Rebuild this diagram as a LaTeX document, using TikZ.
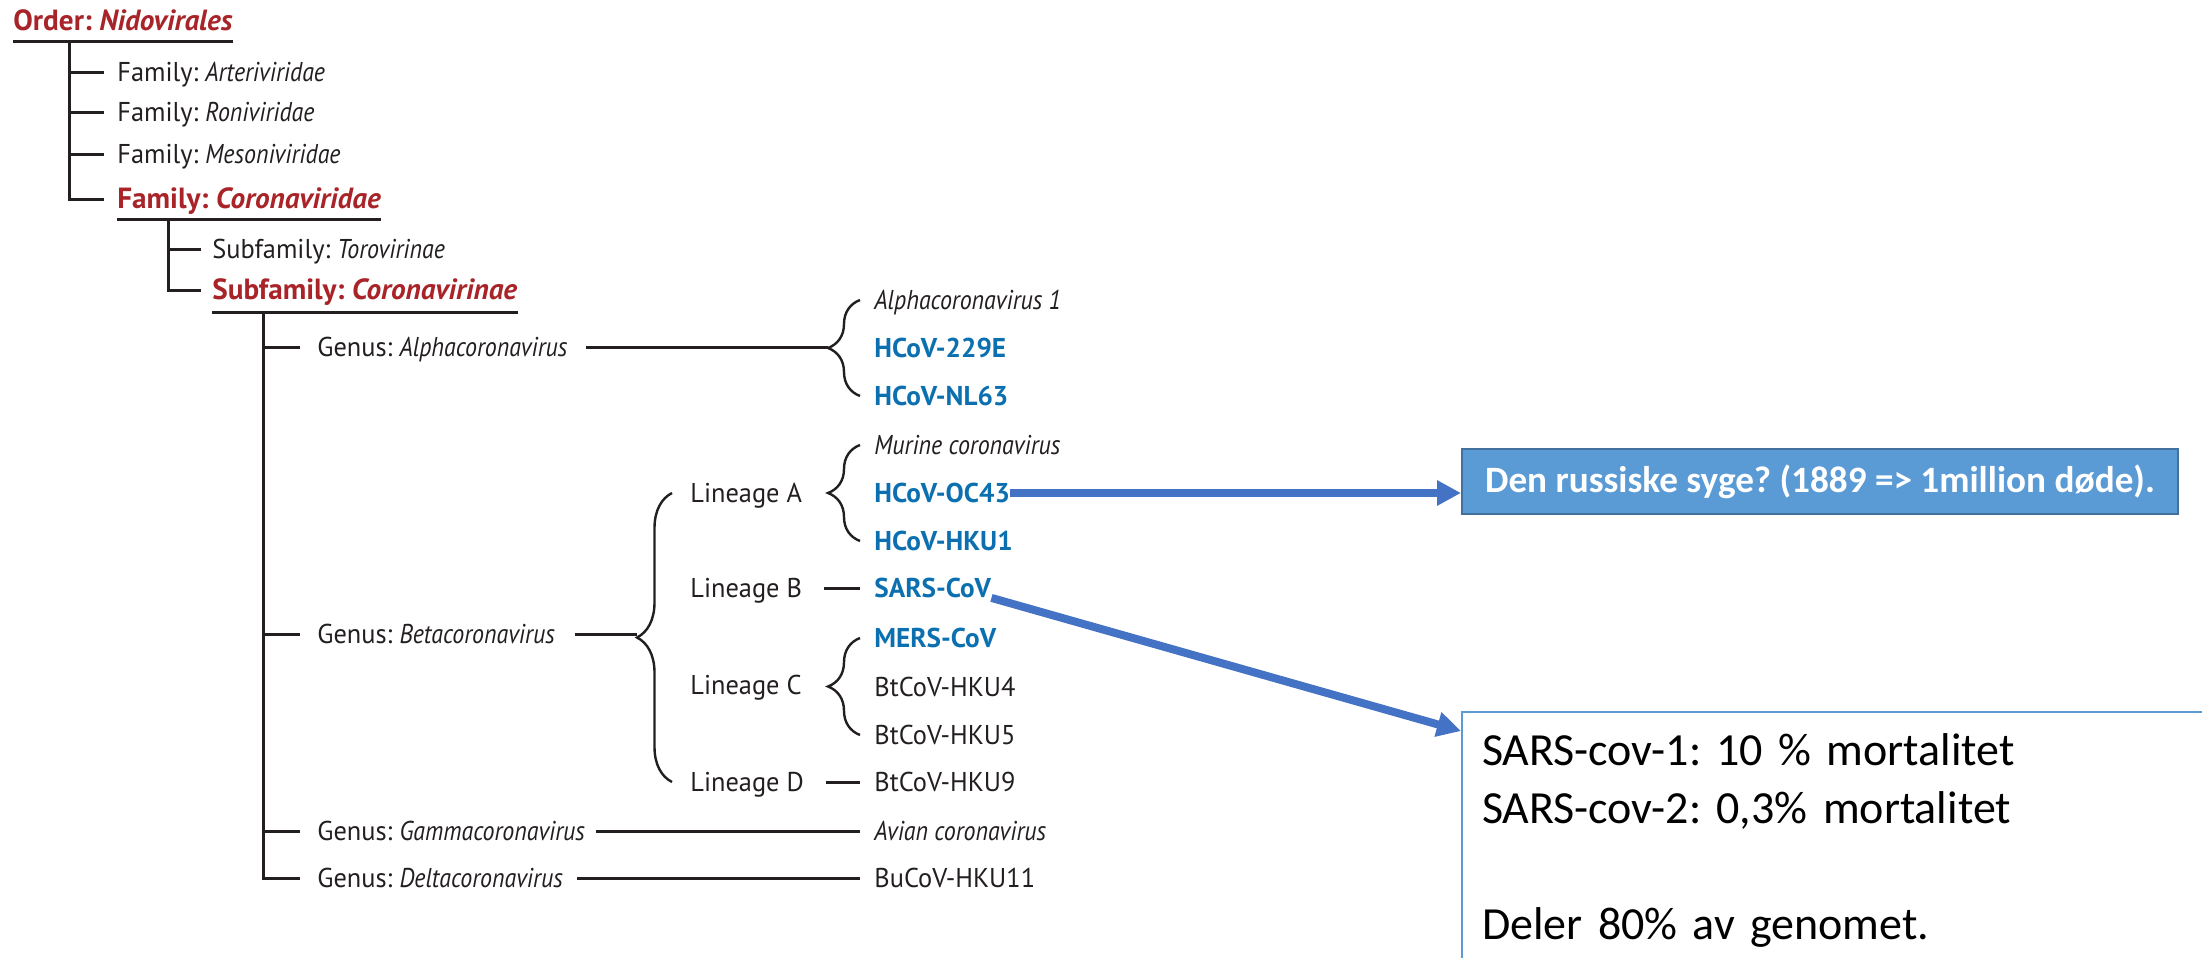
\documentclass[tikz,border=0pt]{standalone}
\usepackage{fontspec}
\usepackage{tikz}
\usetikzlibrary{positioning,decorations.pathreplacing,arrows.meta}

\newfontfamily\treefont[UprightFeatures={FakeStretch=0.97}, ItalicFeatures={FakeStretch=0.88}, BoldFeatures={FakeStretch=1.0}, BoldItalicFeatures={FakeStretch=1.0}]{PT Sans}
\newfontfamily\boxfont{Carlito}
\frenchspacing

\definecolor{taxred}{RGB}{168,36,41}
\definecolor{hcovblue}{RGB}{12,112,176}
\definecolor{treegray}{RGB}{35,31,32}
\definecolor{arrowblue}{RGB}{68,114,196}
\definecolor{boxfill}{RGB}{91,155,213}
\definecolor{boxline}{RGB}{65,113,156}

\tikzset{
  taxon/.style={anchor=west, inner sep=0pt, text height=9.5pt, text depth=0pt, text=treegray, font=\treefont\fontsize{13.6}{16}\selectfont},
  rank/.style={taxon, text=taxred, font=\treefont\fontsize{14.6}{17}\selectfont\bfseries},
  human/.style={taxon, text=hcovblue, font=\treefont\fontsize{13.6}{16}\selectfont\bfseries},
  branch/.style={draw=treegray, line width=1.5pt},
  curly/.style={draw=treegray, line width=1.2pt, decorate, decoration={brace, amplitude=#1}},
  curly/.default=16pt,
  pointer/.style={draw=arrowblue, line width=4pt, -{Triangle[length=12pt,width=12pt]}},
  russbox/.style={fill=boxfill, draw=boxline, line width=1pt, minimum width=358pt, minimum height=32.5pt, text=white, font=\boxfont\fontsize{18.6}{22}\selectfont\bfseries},
  notebox/.style={draw=boxfill, line width=1pt, align=left, text width=380pt, inner xsep=10pt, inner ysep=11pt, text=black, font=\boxfont\fontsize{23}{29}\selectfont}
}

\begin{document}
\begin{tikzpicture}[x=0.5pt, y=-0.5pt]
  \useasboundingbox (0,0) rectangle (2202,958);
  \clip (0,0) rectangle (2202,958);

  % taxonomy
  \node[rank] at (13,21) (ord) {Order: \textit{Nidovirales}};
  \node[taxon] at (117,72) (art) {Family: \textit{Arteriviridae}};
  \node[taxon] at (117,112) (ron) {Family: \textit{Roniviridae}};
  \node[taxon] at (117,154) (mes) {Family: \textit{Mesoniviridae}};
  \node[rank] at (117,199) (cor) {Family: \textit{Coronaviridae}};
  \node[taxon] at (212,249) (tor) {Subfamily: \textit{Torovirinae}};
  \node[rank] at (212,290) (cvi) {Subfamily: \textit{Coronavirinae}};
  \node[taxon] at (317,347) (alpha) {Genus: \textit{Alphacoronavirus}};
  \node[taxon] at (317,634) (beta) {Genus: \textit{Betacoronavirus}};
  \node[taxon] at (317,831) (gamma) {Genus: \textit{Gammacoronavirus}};
  \node[taxon] at (317,878) (delta) {Genus: \textit{Deltacoronavirus}};

  \node[taxon] at (690,493) (linA) {Lineage A};
  \node[taxon] at (690,588) (linB) {Lineage B};
  \node[taxon] at (690,685) (linC) {Lineage C};
  \node[taxon] at (690,782) (linD) {Lineage D};

  \node[taxon] at (874,300) (alpha1) {\textit{Alphacoronavirus 1}};
  \node[human] at (874,348) (e229) {HCoV-229E};
  \node[human] at (874,396) (nl63) {HCoV-NL63};
  \node[taxon] at (874,445) (murine) {\textit{Murine coronavirus}};
  \node[human] at (874,493) (oc43) {HCoV-OC43};
  \node[human] at (874,541) (hku1) {HCoV-HKU1};
  \node[human] at (874,588) (sars) {SARS-CoV};
  \node[human] at (874,638) (mers) {MERS-CoV};
  \node[taxon] at (874,687) (hku4) {BtCoV-HKU4};
  \node[taxon] at (874,735) (hku5) {BtCoV-HKU5};
  \node[taxon] at (874,782) (hku9) {BtCoV-HKU9};
  \node[taxon] at (874,831) (avian) {\textit{Avian coronavirus}};
  \node[taxon] at (874,878) (hku11) {BuCoV-HKU11};

  \coordinate (t0) at (69,41);
  \coordinate (t1) at (168,219);
  \coordinate (t2) at (263,312);

  \draw[branch] (ord.west |- t0) -- (ord.east |- t0);
  \draw[branch, shorten >=6.5pt] (t0) |- (cor.west);
  \draw[branch, shorten >=6.5pt] (t0 |- art.west) -- (art.west);
  \draw[branch, shorten >=6.5pt] (t0 |- ron.west) -- (ron.west);
  \draw[branch, shorten >=6.5pt] (t0 |- mes.west) -- (mes.west);

  \draw[branch] (cor.west |- t1) -- (cor.east |- t1);
  \draw[branch, shorten >=5.5pt] (t1) |- (cvi.west);
  \draw[branch, shorten >=5.5pt] (t1 |- tor.west) -- (tor.west);

  \draw[branch] (cvi.west |- t2) -- (cvi.east |- t2);
  \draw[branch, shorten >=8.5pt] (t2) |- (delta.west);
  \draw[branch, shorten >=8.5pt] (t2 |- alpha.west) -- (alpha.west);
  \draw[branch, shorten >=8.5pt] (t2 |- beta.west) -- (beta.west);
  \draw[branch, shorten >=8.5pt] (t2 |- gamma.west) -- (gamma.west);

  % braces
  \draw[curly] ([xshift=-7pt]nl63.west) -- node[coordinate, left=16pt] (atip) {} ([xshift=-7pt]alpha1.west);
  \draw[curly] ([xshift=-7pt]hku1.west) -- ([xshift=-7pt]murine.west);
  \draw[curly] ([xshift=-7pt]hku5.west) -- ([xshift=-7pt]mers.west);
  \draw[curly=17.5pt] ([xshift=-9pt]linD.west) -- node[coordinate, left=17.5pt] (btip) {} ([xshift=-9pt]linA.west);

  \draw[branch, shorten <=9pt] (alpha.east) -- (alpha.east -| atip);
  \draw[branch, shorten <=10pt] (beta.east) -- (beta.east -| btip);
  \draw[branch, shorten <=11pt, shorten >=7pt] (linB.east) -- (sars.west);
  \draw[branch, shorten <=11pt, shorten >=7pt] (linD.east) -- (hku9.west);
  \draw[branch, shorten <=5.5pt, shorten >=7pt] (gamma.east) -- (avian.west);
  \draw[branch, shorten <=7pt, shorten >=7pt] (delta.east) -- (hku11.west);

  % notes
  \node[russbox, anchor=north west] at (1461,448) (russ) {Den russiske syge? (1889 => 1million døde).};
  \node[notebox, anchor=north west] at (1461,711) (note) {SARS-cov-1: 10 \% mortalitet\\SARS-cov-2: 0,3\% mortalitet\\[29pt]Deler 80\% av genomet.};

  \draw[pointer] (oc43.east) -- (oc43.east -| russ.west);
  \draw[pointer] (sars.south east) -- ([yshift=-10pt]note.north west);
\end{tikzpicture}
\end{document}
